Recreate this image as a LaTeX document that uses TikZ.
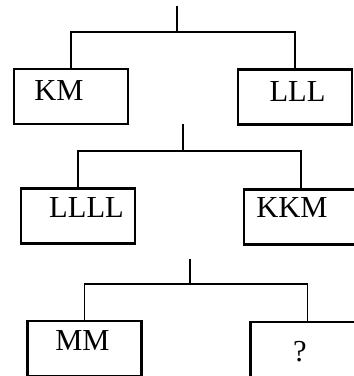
\documentclass[tikz,border=0pt]{standalone}
\usepackage{fontspec}
\setmainfont{Liberation Serif}
\begin{document}
\begin{tikzpicture}[x=1pt,y=-1pt,
  box/.style={draw=black,line width=2.2pt,minimum width=114pt,minimum height=55pt,inner sep=0pt,fill=white},
  lbl/.style={anchor=base,inner sep=0pt,font=\fontsize{30.5}{36}\selectfont},
  conn/.style={draw=black,line width=1.3pt}]
\useasboundingbox (0,0) rectangle (354,376);
\clip (0,0) rectangle (354,376);
% level 1
\node[box] (km)  at (71,96.5) {};
\node[box] (lll) at (295,97) {};
\node[lbl] (kmt)  at (59,100) {KM};
\node[lbl] (lllt) at (297.5,101) {LLL};
\coordinate (s1) at (177,6);
\coordinate (j1) at (177,32);
\draw[conn] (s1) -- (j1);
\draw[conn] (km.north) |- (j1) -| (lll.north);
% level 2
\node[box] (llll) at (78,216) {};
\node[box] (kkm)  at (301,217) {};
\node[lbl] (llllt) at (86.5,217) {LLLL};
\node[lbl] (kkmt)  at (292,217) {KKM};
\coordinate (s2) at (183,124);
\coordinate (j2) at (183,151);
\draw[conn] (s2) -- (j2);
\draw[conn] (llll.north) |- (j2) -| (kkm.north);
% level 3
\node[box] (mm) at (84.5,348.5) {};
\node[box] (q)  at (307.5,349.5) {};
\node[lbl] (mmt) at (82.5,350) {MM};
\node[lbl] (qt)  at (300,361) {?};
\coordinate (s3) at (190,259);
\coordinate (j3) at (190,284);
\draw[conn] (s3) -- (j3);
\draw[conn] (mm.north) |- (j3) -| (q.north);
\end{tikzpicture}
\end{document}
